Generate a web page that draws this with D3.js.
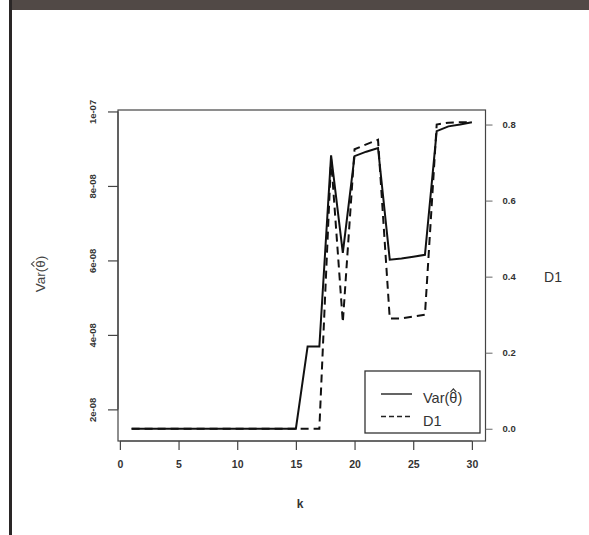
<!DOCTYPE html>
<html>
<head>
<meta charset="utf-8">
<script src="https://cdn.jsdelivr.net/npm/d3@7"></script>
<style>
  html, body { margin: 0; padding: 0; background: #fff; }
  svg { display: block; font-family: "Liberation Sans", Arial, sans-serif; }
</style>
</head>
<body>
<div id="chart"></div>
<script>
// ---- data ----
const kValues = [1,2,3,4,5,6,7,8,9,10,11,12,13,14,15,16,17,18,19,20,21,22,23,24,25,26,27,28,29,30];
const varTheta = [1.48e-8,1.48e-8,1.48e-8,1.48e-8,1.48e-8,1.48e-8,1.48e-8,1.48e-8,1.48e-8,1.48e-8,
                  1.48e-8,1.48e-8,1.48e-8,1.48e-8,1.48e-8,3.69e-8,3.69e-8,8.82e-8,6.2e-8,8.8e-8,
                  8.92e-8,9.02e-8,6.02e-8,6.05e-8,6.1e-8,6.15e-8,9.47e-8,9.6e-8,9.65e-8,9.71e-8];
const d1 = [0,0,0,0,0,0,0,0,0,0,
            0,0,0,0,0,0,0,0.71,0.28,0.735,
            0.748,0.76,0.29,0.29,0.295,0.30,0.80,0.805,0.806,0.806];
const xTicks = [0,5,10,15,20,25,30];
const leftTicks = [2e-8,4e-8,6e-8,8e-8,1e-7];
const leftTickLabels = ["2e-08","4e-08","6e-08","8e-08","1e-07"];
const rightTicks = [0,0.2,0.4,0.6,0.8];
const rightTickLabels = ["0.0","0.2","0.4","0.6","0.8"];
const varLabelParts = ["Var(", "θ", ")"];   // θ carries a hat: Var(θ̂)
const d1Label = "D1";
const xLabel = "k";

// ---- layout ----
const W = 589, H = 535;
const box = {left: 118, right: 485.5, top: 110, bottom: 441};

function pad(ext) { const r = ext[1]-ext[0]; return [ext[0]-0.04*r, ext[1]+0.04*r]; }

const x = d3.scaleLinear().domain(pad(d3.extent(kValues))).range([box.left, box.right]);
const yL = d3.scaleLinear().domain(pad(d3.extent(varTheta))).range([box.bottom, box.top]);
const yR = d3.scaleLinear().domain(pad(d3.extent(d1))).range([box.bottom, box.top]);

const svg = d3.select("#chart").append("svg").attr("width", W).attr("height", H);
svg.append("rect").attr("width", W).attr("height", H).attr("fill", "#fff");

// page frame (top band + left line)
svg.append("rect").attr("x", 10).attr("y", 0).attr("width", W-10).attr("height", 10).attr("fill", "#514946");
svg.append("rect").attr("x", 9).attr("y", 0).attr("width", 3).attr("height", H).attr("fill", "#2a2626");

const txt = "#333";
const FF = "Liberation Sans, Arial, sans-serif";

// plot box
svg.append("rect").attr("x", box.left).attr("y", box.top)
  .attr("width", box.right-box.left).attr("height", box.bottom-box.top)
  .attr("fill", "none").attr("stroke", "#444").attr("stroke-width", 1.2);

// bottom axis
const xAxis = svg.append("g").attr("transform", `translate(0,${box.bottom})`)
  .call(d3.axisBottom(x).tickValues(xTicks).tickSize(9).tickPadding(11).tickFormat(d3.format("d")));
xAxis.select(".domain").attr("d", `M${x(0)},0H${x(30)}`).attr("stroke", "#444").attr("stroke-width", 1.2);
xAxis.selectAll(".tick line").attr("stroke", "#444").attr("stroke-width", 1.2);
xAxis.selectAll(".tick text").attr("font-size", 10.5).attr("font-weight", "bold").attr("fill", txt)
  .attr("font-family", FF);

// left axis
const lAxis = svg.append("g").attr("transform", `translate(${box.left},0)`)
  .call(d3.axisLeft(yL).tickValues(leftTicks).tickSize(10).tickFormat((d,i) => leftTickLabels[i]));
lAxis.select(".domain").attr("d", `M0,${yL(leftTicks[0])}V${yL(leftTicks[4])}`).attr("stroke", "#444").attr("stroke-width", 1.2);
lAxis.selectAll(".tick line").attr("stroke", "#444").attr("stroke-width", 1.2);
lAxis.selectAll(".tick text")
  .attr("x", null).attr("dy", null)
  .attr("transform", "translate(-26,0) rotate(-90)")
  .attr("text-anchor", "middle").attr("dominant-baseline", "central")
  .attr("font-size", 9.5).attr("font-weight", "bold").attr("fill", txt)
  .attr("font-family", FF);

// right axis
const rAxis = svg.append("g").attr("transform", `translate(${box.right},0)`)
  .call(d3.axisRight(yR).tickValues(rightTicks).tickSize(7).tickPadding(10).tickFormat((d,i) => rightTickLabels[i]));
rAxis.select(".domain").remove();
rAxis.selectAll(".tick line").attr("stroke", "#666").attr("stroke-width", 1);
rAxis.selectAll(".tick text").attr("font-size", 9.5).attr("font-weight", "bold").attr("fill", txt)
  .attr("font-family", FF);

// text with a hat (circumflex) drawn over θ
function hatLabel(g, fontSize, color, anchor) {
  const t = g.append("text").attr("text-anchor", anchor).attr("dominant-baseline", "central")
    .attr("font-size", fontSize).attr("fill", color);
  varLabelParts.forEach(p => t.append("tspan").text(p));
  const ext = t.node().getExtentOfChar(varLabelParts[0].length);
  const cx = ext.x + ext.width/2, hw = fontSize*0.2;
  const yb = ext.y + fontSize*0.14, yt = ext.y - fontSize*0.08;
  g.append("path").attr("d", `M${cx-hw},${yb}L${cx},${yt}L${cx+hw},${yb}`)
    .attr("fill", "none").attr("stroke", color).attr("stroke-width", fontSize*0.075);
}

// axis titles
svg.append("text").attr("x", 300).attr("y", 504).attr("text-anchor", "middle").attr("dominant-baseline", "central")
  .attr("font-size", 12).attr("font-weight", "bold").attr("fill", txt).text(xLabel);
hatLabel(svg.append("g").attr("transform", "translate(40,274) rotate(-90)"), 13.5, "#444", "middle");
svg.append("text").attr("x", 553).attr("y", 277).attr("text-anchor", "middle").attr("dominant-baseline", "central")
  .attr("font-size", 14).attr("fill", txt).text(d1Label);

// lines
const lineL = d3.line().x((d,i) => x(kValues[i])).y(d => yL(d));
const lineR = d3.line().x((d,i) => x(kValues[i])).y(d => yR(d));
svg.append("path").datum(d1).attr("d", lineR).attr("fill", "none").attr("stroke", "#111")
  .attr("stroke-width", 2).attr("stroke-dasharray", "8,5");
svg.append("path").datum(varTheta).attr("d", lineL).attr("fill", "none").attr("stroke", "#111")
  .attr("stroke-width", 2).attr("stroke-linejoin", "miter");

// legend
const lg = {x: 365, y: 371, w: 115, h: 62};
svg.append("rect").attr("x", lg.x).attr("y", lg.y).attr("width", lg.w).attr("height", lg.h)
  .attr("fill", "#fff").attr("stroke", "#333").attr("stroke-width", 1.3);
const rows = [{y: 394, dash: null}, {y: 416.5, dash: "5,3"}];
rows.forEach((r, i) => {
  svg.append("line").attr("x1", 381).attr("x2", 412).attr("y1", r.y).attr("y2", r.y)
    .attr("stroke", "#222").attr("stroke-width", 1.4).attr("stroke-dasharray", r.dash);
  const g = svg.append("g").attr("transform", `translate(423,${r.y + 4})`);
  if (i === 0) hatLabel(g, 14.5, txt, "start");
  else g.append("text").attr("dominant-baseline", "central").attr("font-size", 14.5).attr("fill", txt).text(d1Label);
});
</script>
</body>
</html>
